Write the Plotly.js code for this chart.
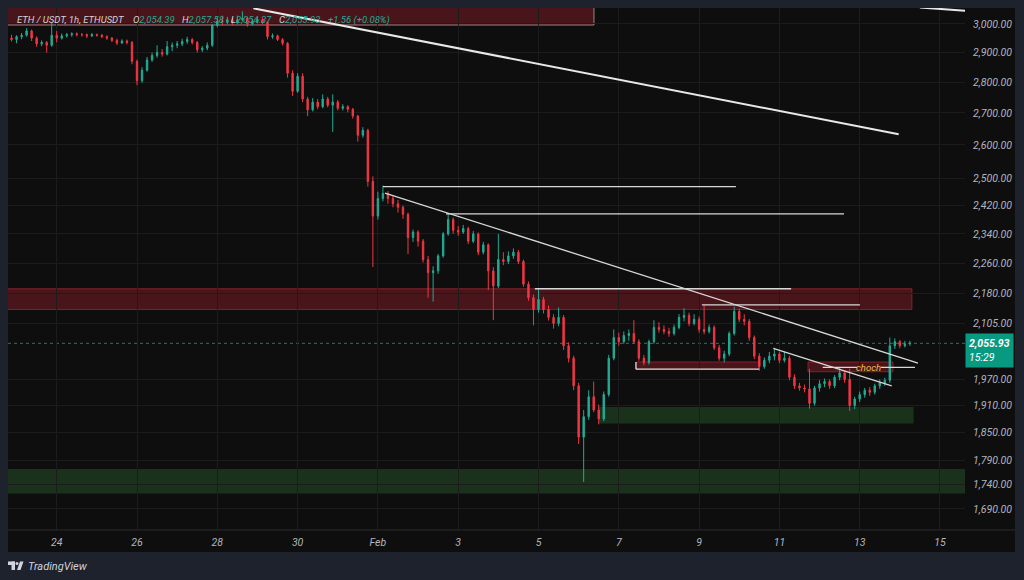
<!DOCTYPE html>
<html><head><meta charset="utf-8">
<script src="https://cdn.plot.ly/plotly-3.0.1.min.js"></script>
<style>html,body{margin:0;padding:0;background:#1e222d;}#chart{width:1024px;height:580px;}</style>
</head><body><div id="chart"></div>
<script>
// ---- candle data (3h candles) ----
const firstCandle = Date.UTC(2026, 0, 22, 21, 0, 0);
const stepHours = 3;
const open = [
2950,2945,2955,2960,2975,2950,2930,2935,2925,2960,
2950,2958,2962,2965,2962,2962,2958,2962,2960,2955,
2950,2942,2933,2940,2935,2870,2805,2840,2875,2890,
2900,2895,2920,2925,2930,2938,2945,2935,2910,2915,
2925,2995,3010,3005,3015,3005,3015,3020,3000,3010,
3015,3005,2955,2958,2945,2932,2830,2770,2820,2745,
2710,2735,2720,2745,2725,2735,2715,2720,2712,2690,
2630,2645,2490,2390,2440,2455,2440,2425,2415,2395,
2330,2345,2320,2270,2235,2240,2280,2340,2380,2350,
2345,2355,2320,2340,2290,2310,2240,2200,2270,2265,
2280,2290,2265,2205,2170,2140,2165,2140,2120,2105,
2120,2050,2020,1955,1840,1885,1930,1900,1880,1935,
2020,2070,2060,2075,2080,2060,2020,2010,2060,2095,
2090,2085,2080,2095,2120,2125,2105,2115,2090,2085,
2095,2045,2020,2030,2080,2135,2115,2110,2070,2025,
2000,2015,2025,2030,2015,2020,1975,1955,1950,1948,
1915,1950,1960,1965,1955,1975,1985,1970,1910,1925,
1935,1945,1940,1955,1962,1968,2050,2060,2050,2055];
const high = [
2962,2960,2968,2985,2980,2956,2942,2940,3005,2975,
2966,2968,2970,2970,2968,2966,2968,2966,2964,2960,
2954,2948,2946,2945,2940,2876,2850,2885,2900,2925,
2912,2940,2935,2940,2948,2955,2950,2940,2922,2935,
3000,3025,3030,3025,3022,3030,3045,3025,3018,3022,
3020,3008,2966,2962,2950,2936,2840,2830,2830,2752,
2748,2745,2760,2752,2760,2742,2728,2725,2716,2694,
2655,2650,2505,2460,2478,2462,2450,2436,2420,2400,
2352,2350,2326,2280,2252,2285,2345,2398,2386,2362,
2365,2360,2348,2344,2318,2314,2250,2340,2290,2292,
2300,2296,2270,2212,2178,2192,2172,2150,2128,2145,
2126,2058,2026,1962,1900,1945,1965,1912,1942,2028,
2090,2082,2085,2090,2113,2066,2028,2065,2113,2108,
2100,2094,2102,2128,2143,2132,2128,2122,2150,2102,
2100,2052,2038,2085,2147,2142,2128,2116,2075,2032,
2022,2035,2045,2036,2035,2026,1982,1962,1958,1995,
1955,1968,1972,1970,1980,1997,1990,1995,1930,1942,
1950,1952,1960,1970,1974,2070,2068,2064,2062,2062];
const low = [
2938,2932,2946,2955,2940,2920,2922,2900,2920,2935,
2945,2952,2955,2956,2955,2950,2954,2955,2950,2944,
2936,2926,2930,2928,2860,2790,2798,2835,2868,2882,
2886,2890,2905,2915,2922,2930,2928,2900,2902,2908,
2920,2988,2995,3000,2995,3000,3008,2990,2995,3002,
2998,2945,2948,2940,2925,2815,2755,2765,2735,2690,
2705,2712,2715,2718,2640,2708,2708,2702,2682,2610,
2622,2475,2250,2380,2432,2425,2415,2400,2382,2285,
2318,2305,2262,2170,2160,2232,2275,2335,2340,2335,
2340,2312,2315,2282,2284,2190,2113,2195,2255,2258,
2272,2258,2198,2162,2100,2132,2130,2112,2092,2098,
2040,2010,1945,1825,1745,1878,1895,1868,1875,1930,
2015,2050,2055,2062,2055,2014,2003,2005,2055,2082,
2078,2072,2075,2090,2110,2098,2100,2082,2078,2080,
2040,2014,2010,2025,2075,2108,2100,2062,2018,1990,
1995,2008,2015,2008,2010,1968,1948,1944,1940,1903,
1910,1942,1952,1948,1950,1968,1962,1898,1902,1918,
1928,1932,1935,1948,1955,1962,2042,2044,2046,2050];
const close = [
2945,2955,2960,2975,2950,2930,2935,2925,2960,2950,
2958,2962,2965,2962,2962,2958,2962,2960,2955,2950,
2942,2933,2940,2935,2870,2805,2840,2875,2890,2900,
2895,2920,2925,2930,2938,2945,2935,2910,2915,2925,
2995,3010,3005,3015,3005,3015,3020,3000,3010,3015,
3005,2955,2958,2945,2932,2830,2770,2820,2745,2710,
2735,2720,2745,2725,2735,2715,2720,2712,2690,2630,
2645,2490,2390,2440,2455,2440,2425,2415,2395,2330,
2345,2320,2270,2235,2240,2280,2340,2380,2350,2345,
2355,2320,2340,2290,2310,2240,2200,2270,2265,2280,
2290,2265,2205,2170,2140,2165,2140,2120,2105,2120,
2050,2020,1955,1840,1885,1930,1900,1880,1935,2020,
2070,2060,2075,2080,2060,2020,2010,2060,2095,2090,
2085,2080,2095,2120,2125,2105,2115,2090,2085,2095,
2045,2020,2030,2080,2135,2115,2110,2070,2025,2000,
2015,2025,2030,2015,2020,1975,1955,1950,1948,1915,
1950,1960,1965,1955,1975,1985,1970,1910,1925,1935,
1945,1940,1955,1962,1968,2050,2060,2050,2055,2055.93];
const lastPrice = 2055.93;

// ---- axis ticks ----
const priceTicks = [3000,2900,2800,2700,2600,2500,2420,2340,2260,2180,2105,1970,1910,1850,1790,1740,1690];
const priceTickLabels = ['3,000.00','2,900.00','2,800.00','2,700.00','2,600.00','2,500.00','2,420.00','2,340.00','2,260.00','2,180.00','2,105.00','1,970.00','1,910.00','1,850.00','1,790.00','1,740.00','1,690.00'];
const dateTicks = ['2026-01-24','2026-01-26','2026-01-28','2026-01-30','2026-02-01','2026-02-03','2026-02-05','2026-02-07','2026-02-09','2026-02-11','2026-02-13','2026-02-15'];
const dateTickLabels = ['24','26','28','30','Feb','3','5','7','9','11','13','15'];

// ---- header legend ----
const symbolText = 'ETH / USDT, 1h, ETHUSDT';
const ohlcKeys = ['O','H','L','C'];
const ohlcValues = ['2,054.39','2,057.58','2,054.37','2,055.93'];
const changeText = '+1.56 (+0.08%)';

// ---- drawings: zones [t0, t1, lowPrice, highPrice] ----
const headerZone = ['2026-01-20 00:00','2026-02-06 09:10',2996,3200];
const redZones = [
  ['2026-01-20 00:00','2026-02-14 07:12',2140,2193],
  ['2026-02-07 10:16','2026-02-10 11:49',1994,2011],
  ['2026-02-11 17:05','2026-02-13 19:54',1988,2011]
];
const greenZones = [
  ['2026-01-20 00:00','2026-02-17 00:00',1721.5,1771.7],
  ['2026-02-06 11:51','2026-02-14 08:10',1870,1907]
];
// ---- drawings: lines [t0, p0, t1, p1] ----
const thickLines = [
  ['2026-01-28 21:32',3056,'2026-02-13 23:18',2633],
  ['2026-02-14 12:00',3059,'2026-02-15 15:00',3047]
];
const thinLines = [
  ['2026-02-01 03:03',2474.5,'2026-02-09 22:00',2474.5],
  ['2026-02-02 16:42',2396,'2026-02-12 14:38',2396],
  ['2026-02-01 04:15',2456,'2026-02-14 10:51',2008.5],
  ['2026-02-04 21:50',2193,'2026-02-11 07:00',2193],
  ['2026-02-09 01:42',2151.7,'2026-02-13 00:10',2151.7],
  ['2026-02-07 10:16',1994,'2026-02-10 11:49',1994],
  ['2026-02-07 10:16',1994,'2026-02-07 10:16',2011],
  ['2026-02-10 20:21',2043.7,'2026-02-13 19:08',1955.2],
  ['2026-02-12 01:54',1998,'2026-02-12 22:23',1998],
  ['2026-02-13 12:45',1998,'2026-02-14 09:03',1998]
];
const chochLabel = ['2026-02-13 05:30',1998,'choch'];

// ---- build ----
const times = open.map((_, i) => new Date(firstCandle + i*stepHours*3600000).toISOString().slice(0,19).replace('T',' '));

const W = 1024, H = 580, L = 8, R = 965, T = 8, B = 530;
const px = x => (x - L) / (R - L);
const py = y => (B - y) / (B - T);
const FONT = 'Roboto, "Open Sans", sans-serif';

const shapes = [];
shapes.push({type:'rect', xref:'paper', yref:'paper', x0:px(8), x1:px(1015), y0:py(552), y1:py(8), fillcolor:'#0e0e0e', line:{width:0}, layer:'below'});
shapes.push({type:'line', xref:'paper', yref:'paper', x0:px(8), x1:px(1015), y0:py(530), y1:py(530), line:{color:'#2a2a2a', width:1}});

shapes.push({type:'rect', xref:'x', yref:'y', x0:headerZone[0], x1:headerZone[1], y0:headerZone[2], y1:headerZone[3],
  fillcolor:'rgba(128,28,38,0.5)', line:{color:'rgba(190,170,170,0.75)', width:1}, layer:'below'});
redZones.forEach(z => shapes.push({type:'rect', xref:'x', yref:'y', x0:z[0], x1:z[1], y0:z[2], y1:z[3],
  fillcolor:'rgba(128,28,38,0.5)', line:{color:'rgba(170,40,52,0.7)', width:1}, layer:'below'}));
greenZones.forEach(z => shapes.push({type:'rect', xref:'x', yref:'y', x0:z[0], x1:z[1], y0:z[2], y1:z[3],
  fillcolor:'rgba(56,142,60,0.28)', line:{width:0}, layer:'below'}));
shapes.push({type:'line', xref:'paper', yref:'y', x0:0, x1:1, y0:lastPrice, y1:lastPrice, line:{color:'rgba(34,171,148,0.7)', width:1, dash:'dot'}, layer:'below'});
thickLines.forEach(l => shapes.push({type:'line', xref:'x', yref:'y', x0:l[0], y0:l[1], x1:l[2], y1:l[3], line:{color:'#e8e8e8', width:2}}));
thinLines.forEach(l => shapes.push({type:'line', xref:'x', yref:'y', x0:l[0], y0:l[1], x1:l[2], y1:l[3], line:{color:'#d8d8d8', width:1.3}}));

// TradingView logo (simple)
shapes.push({type:'rect', xref:'paper', yref:'paper', x0:px(8), x1:px(15), y0:py(565), y1:py(561.5), fillcolor:'#d1d4dc', line:{width:0}});
shapes.push({type:'rect', xref:'paper', yref:'paper', x0:px(11.5), x1:px(15), y0:py(570), y1:py(561.5), fillcolor:'#d1d4dc', line:{width:0}});
shapes.push({type:'circle', xref:'paper', yref:'paper', x0:px(15.5), x1:px(18.5), y0:py(565), y1:py(562), fillcolor:'#d1d4dc', line:{width:0}});
shapes.push({type:'path', xref:'paper', yref:'paper', path:`M ${px(20)} ${py(561.5)} L ${px(23.5)} ${py(561.5)} L ${px(20.5)} ${py(570)} L ${px(17)} ${py(570)} Z`, fillcolor:'#d1d4dc', line:{width:0}});

const grey = '#d1d4dc', teal = '#22ab94';
const hdrFont = {family:FONT, size:9.5, color:grey, style:'italic'};
const annotations = [];
annotations.push({xref:'paper', yref:'paper', x:px(15), y:py(20), xanchor:'left', yanchor:'middle', text:symbolText, showarrow:false, font:hdrFont});
const groupX = [131, 180, 229, 277];
ohlcKeys.forEach((k, i) => annotations.push({xref:'paper', yref:'paper', x:px(groupX[i]), y:py(20), xanchor:'left', yanchor:'middle',
  text:`<span style="color:${grey}">${k}</span><span style="color:${teal}">${ohlcValues[i]}</span>`, showarrow:false, font:hdrFont}));
annotations.push({xref:'paper', yref:'paper', x:px(326), y:py(20), xanchor:'left', yanchor:'middle', text:changeText, showarrow:false,
  font:Object.assign({}, hdrFont, {color:teal})});
annotations.push({xref:'x', yref:'y', x:chochLabel[0], y:Math.log10(chochLabel[1]), text:chochLabel[2], showarrow:false,
   font:{family:FONT, size:9.5, color:'#f2c14e', style:'italic'}});
annotations.push({xref:'paper', yref:'paper', x:px(965), y:py(350), xanchor:'left', yanchor:'middle', align:'left',
   text:'<b>2,055.93</b><br>15:29', showarrow:false, bgcolor:'#089981', borderpad:3, width:41,
   font:{family:FONT, size:10.5, color:'#ffffff', style:'italic'}});
annotations.push({xref:'paper', yref:'paper', x:px(26), y:py(566), xanchor:'left', yanchor:'middle', text:'TradingView', showarrow:false,
   font:{family:FONT, size:11, color:'#d1d4dc', style:'italic'}});

const trace = {
  type:'candlestick', x:times, open:open, high:high, low:low, close:close,
  increasing:{line:{color:'#22ab94', width:1}, fillcolor:'#22ab94'},
  decreasing:{line:{color:'#f23645', width:1}, fillcolor:'#f23645'},
  whiskerwidth:0, hoverinfo:'skip', showlegend:false
};

const layout = {
  width:W, height:H, margin:{l:L, r:W-R, t:T, b:H-B},
  paper_bgcolor:'#1e222d', plot_bgcolor:'#0e0e0e', showlegend:false, boxgap:0.6,
  xaxis:{type:'date', range:['2026-01-22 18:53','2026-02-15 14:57'], tickvals:dateTicks, ticktext:dateTickLabels,
    showgrid:true, gridcolor:'#1c1c1c', gridwidth:1, zeroline:false, showline:false, ticks:'', ticklabelstandoff:4,
    tickfont:{family:FONT, size:10.5, color:'#b2b5be', style:'italic'}, rangeslider:{visible:false}, fixedrange:true},
  yaxis:{type:'log', side:'right', range:[Math.log10(1648.5), Math.log10(3057)], tickvals:priceTicks, ticktext:priceTickLabels,
    showgrid:true, gridcolor:'#1c1c1c', gridwidth:1, zeroline:false, showline:false, ticks:'', ticklabelstandoff:7,
    tickfont:{family:FONT, size:10.5, color:'#b2b5be', style:'italic'}, fixedrange:true},
  shapes:shapes, annotations:annotations
};
Plotly.newPlot('chart', [trace], layout, {staticPlot:true, displayModeBar:false});
</script></body></html>
